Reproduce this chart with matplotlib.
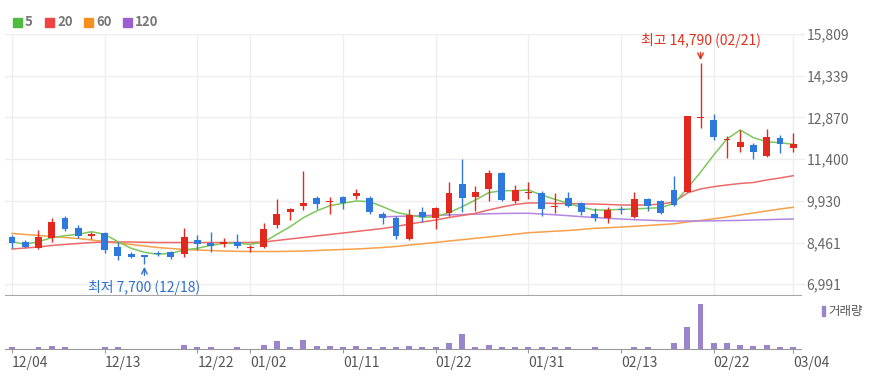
import numpy as np
import matplotlib
matplotlib.use("Agg")
import matplotlib.pyplot as plt
from matplotlib.patches import Rectangle

plt.rcParams['font.family'] = ['Noto Sans CJK KR', 'DejaVu Sans']

# --- Daten ---
dates = ['12/04', '12/05', '12/06', '12/07', '12/08', '12/11', '12/12', '12/13', '12/14', '12/15',
         '12/18', '12/19', '12/20', '12/21', '12/22', '12/26', '12/27', '12/28', '01/02', '01/03',
         '01/04', '01/05', '01/08', '01/09', '01/10', '01/11', '01/12', '01/15', '01/16', '01/17',
         '01/18', '01/19', '01/22', '01/23', '01/24', '01/25', '01/26', '01/29', '01/30', '01/31',
         '02/01', '02/02', '02/05', '02/06', '02/07', '02/08', '02/13', '02/14', '02/15', '02/16',
         '02/19', '02/20', '02/21', '02/22', '02/23', '02/26', '02/27', '02/28', '02/29', '03/04']

opens = [8645, 8490, 8257, 8610, 9314, 8983, 8701, 8807, 8292, 8067,
         8011, 8081, 8138, 8046, 8550, 8455, 8419, 8490, 8268, 8314,
         9078, 9547, 9748, 10040, 9889, 10075, 10111, 10040, 9466, 9336,
         8575, 9547, 9314, 9512, 10523, 10054, 10336, 10921, 9935, 10205,
         10195, 9700, 10019, 9864, 9466, 9314, 9642, 9350, 9994, 9935,
         10312, 10252, 12850, 12778, 12060, 11837, 11897, 11520, 12155, 11781]
highs = [8726, 8550, 8902, 9336, 9395, 9078, 8842, 8842, 8490, 8116,
         8030, 8162, 8162, 8983, 8726, 8842, 8631, 8761, 8373, 9159,
         9994, 9660, 10981, 10111, 10075, 10110, 10336, 10100, 9547, 9380,
         9631, 9702, 9700, 10583, 11404, 10452, 11016, 10950, 10488, 10604,
         10287, 10217, 10252, 9900, 9667, 9723, 9759, 10230, 10040, 9960,
         10816, 12930, 14790, 12979, 12215, 12426, 11957, 12461, 12250, 12310]
lows = [8268, 8250, 8240, 8490, 8867, 8631, 8585, 8081, 7845, 7905,
        7700, 8000, 7880, 7963, 8197, 8116, 8303, 8257, 8138, 8280,
        8983, 9254, 9607, 9642, 9455, 9630, 9994, 9455, 9114, 8590,
        8560, 9195, 8926, 9395, 9547, 9582, 9935, 9940, 9864, 9994,
        9395, 9490, 9702, 9431, 9219, 9138, 9455, 9340, 9572, 9450,
        9759, 10230, 12486, 12074, 11429, 11661, 11393, 11464, 11605, 11661]
closes = [8455, 8314, 8645, 9195, 8926, 8701, 8761, 8197, 7986, 7951,
          7951, 8046, 7963, 8666, 8398, 8349, 8490, 8349, 8290, 8937,
          9455, 9642, 9864, 9808, 9924, 9864, 10217, 9525, 9314, 8701,
          9431, 9371, 9688, 10217, 10019, 10252, 10921, 9959, 10312, 10240,
          9631, 9748, 9759, 9526, 9314, 9607, 9600, 9994, 9759, 9490,
          9783, 12919, 12900, 12190, 12100, 12014, 11661, 12190, 11922, 11922]

ma5 = [8490, 8398, 8490, 8631, 8701, 8750, 8842, 8750, 8490, 8257,
       8116, 8046, 8081, 8197, 8257, 8356, 8433, 8433, 8398, 8468,
       8750, 9018, 9335, 9572, 9758, 9843, 9924, 9899, 9723, 9526,
       9431, 9350, 9371, 9512, 9723, 9959, 10216, 10287, 10287, 10312,
       10135, 9984, 9843, 9702, 9607, 9607, 9631, 9642, 9667, 9688,
       9843, 10372, 10935, 11545, 12109, 12426, 12155, 12014, 11978, 11922]
ma20 = [8232, 8268, 8303, 8356, 8391, 8426, 8461, 8479, 8479, 8479,
        8468, 8461, 8461, 8461, 8461, 8461, 8461, 8461, 8461, 8479,
        8532, 8585, 8638, 8691, 8744, 8796, 8849, 8902, 8955, 9025,
        9113, 9184, 9254, 9342, 9413, 9490, 9607, 9712, 9801, 9853,
        9853, 9835, 9835, 9818, 9818, 9801, 9783, 9783, 9783, 9818,
        9889, 10206, 10347, 10428, 10488, 10541, 10576, 10664, 10734, 10815]
ma60 = [8779, 8744, 8709, 8673, 8638, 8603, 8550, 8497, 8444, 8391,
        8338, 8285, 8250, 8215, 8197, 8179, 8162, 8151, 8144, 8144,
        8144, 8151, 8162, 8179, 8197, 8215, 8232, 8257, 8285, 8320,
        8373, 8416, 8461, 8514, 8560, 8609, 8655, 8705, 8754, 8807,
        8831, 8860, 8884, 8920, 8962, 8979, 9008, 9032, 9061, 9089,
        9120, 9184, 9237, 9297, 9360, 9431, 9501, 9572, 9642, 9702]
# MA120 erst ab 01/16 vorhanden
ma120_start = 28
ma120 = [9371, 9378, 9395, 9413, 9424, 9431, 9445, 9459, 9473, 9484,
         9490, 9490, 9466, 9438, 9406, 9371, 9342, 9314, 9290, 9265,
         9247, 9230, 9219, 9219, 9219, 9226, 9233, 9240, 9254, 9265,
         9279, 9290]

volumes = [170, 30, 170, 300, 170, 30, 30, 170, 170, 30,
           30, 30, 30, 400, 170, 170, 30, 170, 30, 400,
           800, 170, 900, 300, 300, 170, 300, 170, 170, 170,
           300, 170, 170, 570, 1470, 230, 400, 230, 170, 170,
           170, 170, 170, 30, 170, 30, 30, 170, 170, 30,
           570, 2170, 4500, 570, 570, 400, 300, 400, 170, 170]  # in Tsd.

tick_dates = ['12/04', '12/13', '12/22', '01/02', '01/11', '01/22', '01/31', '02/13', '02/22', '03/04']
price_ticks = [6991, 8461, 9930, 11400, 12870, 14339, 15809]

# --- Farben ---
c_up, c_down = '#e2291f', '#2f78dd'
c_ma = {'5': '#7cc85c', '20': '#ec6a6a', '60': '#f5a04a', '120': '#b386e0'}
c_leg = {'5': '#4cbb3f', '20': '#ef4444', '60': '#f7901e', '120': '#9b5fcf'}
c_vol = '#9a84cc'

W, H = 871, 378
fx = lambda p: p / W
fy = lambda p: 1 - p / H

fig = plt.figure(figsize=(W / 100, H / 100), dpi=100)
ax = fig.add_axes([fx(5), fy(295), fx(801) - fx(5), fy(34) - fy(295)])
axv = fig.add_axes([fx(5), fy(349), fx(801) - fx(5), fy(296) - fy(349)], sharex=ax)

x = np.arange(len(dates))
o, h, l, c = map(np.array, (opens, highs, lows, closes))
up = c >= o
cols = np.where(up, c_up, c_down)

# Gleitende Durchschnitte
ax.plot(x, ma60, color=c_ma['60'], lw=1.1, zorder=2)
ax.plot(x[ma120_start:], ma120, color=c_ma['120'], lw=1.1, zorder=2)
ax.plot(x, ma20, color=c_ma['20'], lw=1.1, zorder=2)
ax.plot(x, ma5, color=c_ma['5'], lw=1.1, zorder=2)

# Kerzen
ax.vlines(x, l, h, colors=cols, lw=1, zorder=3)
body_lo = np.minimum(o, c)
body_h = np.maximum(np.abs(c - o), 35)
ax.bar(x, body_h, bottom=body_lo, width=0.52, color=cols, zorder=4)

ax.set_xlim(-0.53, 59.59)
ax.set_ylim(6611, 15809)
tick_idx = [dates.index(d) for d in tick_dates]
ax.set_xticks(tick_idx)
ax.set_yticks(price_ticks)
ax.set_yticklabels([f'{v:,}' for v in price_ticks])
ax.yaxis.tick_right()
ax.tick_params(axis='y', length=2, color='#e6e6e6', pad=2, labelsize=10, labelcolor='#666666')
ax.tick_params(axis='x', length=0, labelbottom=False)
ax.grid(True, color='#eeeeee', lw=1, zorder=0)
for s in ['left', 'right']:
    ax.spines[s].set_visible(False)
ax.spines['top'].set_color('#eeeeee')
ax.spines['bottom'].set_color('#a8a8a8')

# Hoch / Tief Markierung
i_hi = int(np.argmax(h))
i_lo = int(np.argmin(l))
ax.annotate(f'최고 {h[i_hi]:,} ({dates[i_hi]})', xy=(i_hi, h[i_hi]), xytext=(0, 16),
            textcoords='offset points', ha='center', va='center', fontsize=10, color='#e0301e',
            arrowprops=dict(arrowstyle='->', color='#e0301e', lw=1, shrinkA=1, shrinkB=2), zorder=6)
ax.annotate(f'최저 {l[i_lo]:,} ({dates[i_lo]})', xy=(i_lo, l[i_lo]), xytext=(0, -16.5),
            textcoords='offset points', ha='center', va='center', fontsize=10, color='#2f6fd0',
            arrowprops=dict(arrowstyle='->', color='#2f6fd0', lw=1, shrinkA=1, shrinkB=2), zorder=6)

# Volumen
axv.bar(x, np.array(volumes) * 1000, width=0.45, color=c_vol, zorder=3)
axv.set_ylim(0, 5.3e6)
axv.set_yticks([])
axv.set_xticks(tick_idx)
axv.set_xticklabels(tick_dates)
for t in axv.get_xticklabels():
    t.set_horizontalalignment('left')
axv.tick_params(axis='x', length=3, color='#999999', pad=2, labelsize=10, labelcolor='#555555')
for s in ['left', 'right', 'top']:
    axv.spines[s].set_visible(False)
axv.spines['bottom'].set_color('#999999')
fig.add_artist(Rectangle((fx(822), fy(316)), fx(3), fy(306) - fy(316), color=c_vol,
                         transform=fig.transFigure))
fig.text(fx(828), fy(311), '거래량', fontsize=9, color='#555555', va='center', ha='left')

# Legende oben
for lbl, sx, tx in [('5', 13, 25), ('20', 45, 57), ('60', 84, 96), ('120', 123, 135)]:
    fig.add_artist(Rectangle((fx(sx), fy(27)), fx(9), fy(18) - fy(27), color=c_leg[lbl],
                             transform=fig.transFigure))
    fig.text(fx(tx), fy(22.5), lbl, fontsize=9.5, fontweight='bold', color='#777777',
             va='center', ha='left')

fig.savefig('out.png', dpi=100)
